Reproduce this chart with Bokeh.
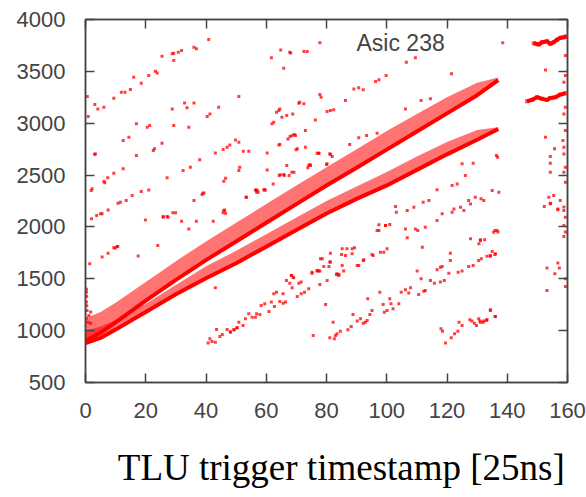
from bokeh.plotting import figure
from bokeh.models import LinearAxis, Range1d, Label, FixedTicker
from bokeh.embed import file_html
from bokeh.resources import INLINE

# ---------------- data ----------------
x_ticks = [0, 20, 40, 60, 80, 100, 120, 140, 160]
y_ticks = [500, 1000, 1500, 2000, 2500, 3000, 3500, 4000]

# two dense correlation bands: lower edge (dense) and upper edge of their scatter
band_x = [0, 5, 10, 20, 30, 40, 50, 60, 70, 80, 90, 100, 110, 120, 130, 137]
band_a_lo = [900, 980, 1080, 1290, 1490, 1680, 1860, 2040, 2220, 2400, 2570, 2745, 2920, 3095, 3270, 3415]
band_a_hi = [1120, 1180, 1270, 1470, 1670, 1860, 2040, 2220, 2400, 2575, 2750, 2925, 3090, 3250, 3390, 3440]
band_b_lo = [880, 930, 1010, 1180, 1350, 1505, 1650, 1810, 1970, 2130, 2270, 2400, 2550, 2700, 2840, 2945]
band_b_hi = [1000, 1040, 1100, 1260, 1440, 1620, 1770, 1930, 2090, 2250, 2390, 2530, 2680, 2820, 2935, 2960]

# short dense segments at the right edge
seg_top_x = [148.8, 150.5, 151.6, 153.2, 154.3, 155.4, 156.5, 157.6, 158.8, 159.6]
seg_top_y = [3771, 3759, 3781, 3791, 3765, 3781, 3804, 3823, 3829, 3836]
seg_mid_x = [146.6, 148.2, 149.9, 151.6, 153.2, 154.3, 156.0, 157.6, 159.3]
seg_mid_y = [3212, 3225, 3251, 3235, 3225, 3244, 3251, 3276, 3289]

x_caption = "TLU trigger timestamp [25ns]"
panel_label = "Asic 238"

# stray hits, upper left region
stray_ul = [
    (40.9, 3807), (36.8, 3717), (36.0, 3733), (31.9, 3701), (30.8, 3685), (29.3, 3675), (28.8, 3669),
    (29.3, 3604), (25.4, 3646), (23.8, 3485), (23.2, 3501), (21.0, 3460), (18.5, 3386), (16.0, 3444),
    (14.9, 3325), (13.1, 3299), (11.9, 3299), (9.4, 3241), (6.1, 3154), (4.1, 3138), (3.1, 3180),
    (0.6, 3257), (0.9, 3064), (32.9, 3196), (36.0, 3196), (33.7, 3148), (28.8, 3138), (44.2, 3154),
    (41.3, 3090), (40.4, 3064), (34.3, 2962), (29.3, 2978), (21.3, 2978), (20.5, 2962), (16.9, 2994),
    (14.4, 2865), (12.5, 2833), (50.9, 3257), (25.4, 2807), (22.9, 2753), (22.5, 2737), (16.9, 2688),
    (3.3, 2704), (3.0, 2700), (49.8, 2839), (50.9, 2817), (47.9, 2791), (47.0, 2769), (45.7, 2746),
    (43.1, 2714), (54.2, 2730), (60.3, 2714), (37.9, 2647), (34.8, 2576), (32.4, 2544), (27.1, 2473),
    (21.0, 2357), (18.5, 2341), (15.5, 2303), (12.5, 2560), (9.4, 2518), (7.4, 2473), (6.1, 2438),
    (6.4, 2425), (2.2, 2367), (1.9, 2351), (51.2, 2576), (50.9, 2544), (46.5, 2470), (45.9, 2441),
    (39.0, 2325), (38.7, 2312), (36.0, 2254), (56.7, 2357), (57.3, 2335), (59.7, 2357), (53.3, 2287),
    (46.2, 2164), (45.7, 2136), (29.9, 2136), (29.0, 2136), (27.4, 2094), (25.8, 2094), (19.9, 2068),
    (13.5, 2254), (11.6, 2238), (10.8, 2229), (7.5, 2164), (5.5, 2126), (5.0, 2126), (3.7, 2110),
    (2.0, 2078), (61.7, 3630), (65.8, 3530), (64.2, 3122), (64.5, 3138), (62.5, 3010), (61.9, 2994),
    (64.2, 2791), (64.7, 2502), (65.8, 2505), (62.3, 2415), (64.8, 3707), (67.8, 3685), (70.8, 3193),
    (63.4, 3106), (65.2, 3058), (66.8, 3074), (68.8, 3090), (67.2, 2849), (67.9, 2872), (69.3, 2891),
    (69.9, 2743), (66.8, 2592), (66.0, 2496), (67.6, 2496), (68.5, 2528), (64.3, 2496), (25.8, 2100),
    (27.1, 2100), (31.9, 2055), (34.3, 1981), (36.8, 2055), (42.4, 2055), (56.4, 2357), (59.4, 2357),
    (60.3, 2550), (52.4, 2730), (64.5, 2795), (68.6, 2882), (70.3, 2753), (57.0, 2351), (56.8, 2335),
    (59.2, 2358), (53.4, 2287), (39.3, 2326), (45.9, 2158), (46.5, 2133),
    (1.4, 1645), (5.5, 1709), (7.5, 1747), (9.4, 1799), (10.5, 1812), (17.5, 1719), (24.0, 1821),
    (9.9, 1798), (10.7, 1811),
]

# stray hits, upper right region
stray_ur = [
    (77.8, 3775), (72.5, 3691), (73.6, 3691), (68.1, 3678), (106.5, 3588), (109.5, 3630), (138.5, 3775),
    (121.5, 3476), (99.8, 3460), (97.4, 3418), (96.3, 3402), (92.2, 3322), (90.7, 3341), (89.1, 3331),
    (86.3, 3219), (77.8, 3277), (78.2, 3251), (82.4, 3129), (81.3, 3122), (80.2, 3113), (76.3, 3032),
    (72.5, 3187), (71.1, 3203), (106.2, 3138), (111.4, 3219), (114.5, 3235), (69.7, 2881), (73.0, 2930),
    (73.0, 2769), (77.5, 2711), (81.3, 2698), (87.7, 2795), (90.7, 2859), (93.3, 2881), (69.2, 2528),
    (74.1, 2592), (77.4, 2711), (81.1, 2705), (81.9, 2679), (74.5, 2602), (73.8, 2570), (80.2, 2609),
    (96.8, 2904), (76.9, 2711), (80.0, 2602), (74.7, 2592),
]

# stray hits below the bands
stray_low = [
    (125.0, 2608), (128.7, 2615), (136.4, 2689), (136.8, 2673), (121.7, 2399), (123.4, 2415),
    (126.1, 2496), (116.7, 2358), (132.2, 2255), (131.3, 2271), (129.4, 2287), (127.2, 2255),
    (127.8, 2222), (124.5, 2190), (125.6, 2158), (122.3, 2174), (137.2, 2335), (135.0, 2351),
    (136.6, 1965), (135.5, 1949), (131.1, 1869), (130.6, 1837), (127.8, 1885), (102.9, 2197),
    (103.2, 2142), (106.8, 2158), (109.0, 2190), (112.1, 2239), (114.0, 2255), (118.4, 2126),
    (121.7, 2142), (106.2, 1981), (109.5, 1981), (110.3, 1965), (112.8, 1997), (97.4, 1965),
    (99.6, 2013), (101.0, 2023), (116.7, 2062), (85.2, 1789), (88.5, 1789), (106.8, 1895), (111.8, 1805),
    (97.4, 2020), (99.6, 2014), (96.8, 1966), (97.9, 1757), (99.0, 1757), (100.1, 1789), (78.0, 1693),
    (81.3, 1661), (80.8, 1619), (75.2, 1564), (76.9, 1580), (77.4, 1574), (83.5, 1548), (84.1, 1542),
    (85.2, 1628), (86.3, 1725), (88.5, 1741), (89.3, 1799), (86.8, 1789), (90.2, 1628), (92.2, 1677),
    (95.5, 1725), (68.4, 1532), (69.1, 1509),
    (135.9, 1966), (136.9, 1950), (132.5, 1876), (131.1, 1876), (135.0, 1763), (135.9, 1734),
    (134.4, 1718), (133.3, 1718), (131.4, 1693), (134.4, 1201), (135.9, 1137), (133.3, 1108),
    (132.2, 1092), (131.1, 1082),
    (48.1, 986), (49.2, 1008), (50.3, 1027), (52.3, 1050), (50.9, 1082), (53.1, 1114), (54.2, 1162),
    (55.3, 1130), (56.4, 1130), (56.8, 1162), (57.9, 1156), (58.3, 1243), (59.5, 1259), (60.9, 1185),
    (61.7, 1275), (62.5, 1355), (63.4, 1371), (62.7, 1233), (64.5, 1281), (65.6, 1265), (66.4, 1275),
    (65.6, 1355), (66.7, 1484), (67.8, 1458), (68.3, 1532), (68.9, 1516), (68.6, 1413), (70.3, 1329),
    (70.8, 1458), (71.6, 1468), (71.6, 1355), (72.7, 1371), (74.1, 1403), (75.2, 1554), (76.9, 1574),
    (77.8, 1574), (77.8, 1445), (78.6, 1693), (79.1, 1619), (80.2, 1484), (81.1, 1661), (81.3, 1747),
    (83.3, 1542), (84.1, 1532), (85.0, 1734), (85.7, 1574), (75.6, 953), (79.7, 1252), (81.1, 931),
    (82.2, 1082), (82.6, 921), (83.0, 953), (83.5, 970), (84.6, 995), (87.1, 1008), (88.2, 1040),
    (88.8, 1156), (90.2, 1092), (90.7, 1628), (91.3, 1114), (92.2, 1072), (92.9, 1082), (93.5, 1098),
    (93.7, 1307), (94.4, 1156), (95.1, 1194), (92.4, 1683), (95.1, 1734), (97.7, 1371), (98.8, 1252),
    (99.2, 1178), (100.1, 1194), (101.0, 1307), (102.1, 1211), (101.4, 1259), (104.0, 1259),
    (104.8, 1371), (106.2, 1394), (107.3, 1362), (107.9, 1413), (110.1, 1574), (110.6, 1349),
    (111.4, 1500), (112.3, 1381), (112.8, 1387), (114.5, 1484), (115.8, 1458), (116.7, 1587),
    (117.8, 1612), (118.4, 1619), (117.8, 1468), (119.1, 1484), (120.6, 1554), (121.1, 1677),
    (121.1, 1747), (123.7, 1564), (125.0, 1574), (127.2, 1619), (128.7, 1628), (130.5, 1677),
    (134.4, 1725), (136.1, 1741), (118.0, 1018), (118.5, 995), (119.5, 880), (121.4, 931), (122.5, 970),
    (123.6, 995), (124.0, 1082), (125.0, 1050), (127.6, 1104), (128.3, 1092), (129.1, 1072),
    (130.5, 1114), (130.9, 1092), (132.0, 1082), (133.1, 1098), (134.4, 1194), (136.1, 1137),
    (129.8, 1050),
    (40.7, 880), (41.3, 921), (42.0, 896), (43.1, 889), (43.5, 1011), (44.6, 944), (45.4, 963),
    (47.0, 1011), (48.1, 986), (49.4, 1008), (50.3, 1027), (43.1, 1413),
]

# hits near x = 0 and along the right edge
stray_edge = [
    (0.3, 1400), (0.3, 1371), (0.4, 1330), (0.3, 1275), (0.4, 1240), (0.5, 1195), (1.1, 1146),
    (0.3, 1120), (0.8, 1082), (1.7, 1179), (1.7, 1072),
    (159.3, 3653), (152.7, 3514), (159.3, 3460), (158.8, 3395), (159.3, 3154), (158.8, 3090),
    (159.3, 2929), (152.7, 2865), (158.5, 2833), (155.7, 2753), (158.8, 2769), (154.3, 2679),
    (158.8, 2704), (154.3, 2614), (159.3, 2576), (154.3, 2528), (158.8, 2528), (159.3, 2431),
    (153.8, 2287), (155.4, 2303), (154.3, 2229), (152.3, 2197), (157.6, 2254), (156.8, 2174),
    (158.8, 2158), (159.3, 2094), (154.3, 2223), (156.8, 2165), (158.8, 2191), (158.8, 2014),
    (159.3, 1950), (158.8, 1908), (156.8, 1651), (157.3, 1603), (153.2, 1603), (155.8, 1548),
    (153.2, 1387), (159.3, 1500), (159.3, 1426),
]

# ---------------- figure ----------------
p = figure(width=586, height=497, output_backend="svg", toolbar_location=None,
           x_range=Range1d(0, 160), y_range=Range1d(500, 4000),
           min_border_left=85, min_border_right=19, min_border_top=19, min_border_bottom=115)
p.background_fill_color = "white"
p.border_fill_color = "white"
p.grid.visible = False
p.outline_line_color = "#444444"
p.outline_line_width = 1.5

RED = "#ff0000"

# bands
p.varea(x=band_x, y1=band_a_lo, y2=band_a_hi, fill_color=RED, fill_alpha=0.55)
p.varea(x=band_x, y1=band_b_lo, y2=band_b_hi, fill_color=RED, fill_alpha=0.55)
p.line(band_x, band_a_lo, line_color=RED, line_width=4)
p.line(band_x, band_b_lo, line_color=RED, line_width=4)
p.line(seg_top_x, seg_top_y, line_color=RED, line_width=4)
p.line(seg_mid_x, seg_mid_y, line_color=RED, line_width=4)
p.scatter(seg_top_x, seg_top_y, marker="square", size=4, fill_color=RED, line_color=None, fill_alpha=0.7)
p.scatter(seg_mid_x, seg_mid_y, marker="square", size=4, fill_color=RED, line_color=None, fill_alpha=0.7)

for grp in (stray_ul, stray_ur, stray_low, stray_edge):
    xs = [q[0] for q in grp]
    ys = [q[1] for q in grp]
    p.scatter(xs, ys, marker="square", size=3, fill_color=RED, line_color=None, fill_alpha=0.75)

# axes styling
def style(ax, labels=True):
    ax.axis_line_color = "#444444"
    ax.axis_line_width = 1.5
    ax.major_tick_line_color = "#444444"
    ax.major_tick_line_width = 1.5
    ax.major_tick_in = 9
    ax.major_tick_out = 0
    ax.minor_tick_line_color = None
    ax.major_label_text_font = "Liberation Sans"
    ax.major_label_text_font_size = "22px"
    ax.major_label_text_color = "#444444"
    ax.major_label_standoff = 20
    if not labels:
        ax.major_label_standoff = 0
        ax.major_label_overrides = {t: "" for t in ax.ticker.ticks}

p.xaxis.ticker = FixedTicker(ticks=x_ticks)
p.yaxis.ticker = FixedTicker(ticks=y_ticks)
style(p.xaxis[0])
style(p.yaxis[0])

xa = p.xaxis[0]
# thin spaces shift the centred caption slightly right, as in the reference
xa.axis_label = "\u2009\u2009\u2009\u2009" + x_caption
xa.axis_label_standoff = 26
xa.axis_label_text_font = "Liberation Serif"
xa.axis_label_text_font_size = "37px"
xa.axis_label_text_font_style = "normal"
xa.axis_label_text_color = "black"

ax_top = LinearAxis(ticker=FixedTicker(ticks=x_ticks))
style(ax_top, labels=False)
p.add_layout(ax_top, "above")
ax_right = LinearAxis(ticker=FixedTicker(ticks=y_ticks))
style(ax_right, labels=False)
p.add_layout(ax_right, "right")

p.add_layout(Label(x=104.6, y=3778, text=panel_label, text_align="center", text_baseline="middle",
                   text_font="Liberation Sans", text_font_size="23px", text_color="#444444"))

open("out.html", "w").write(file_html(p, INLINE))
